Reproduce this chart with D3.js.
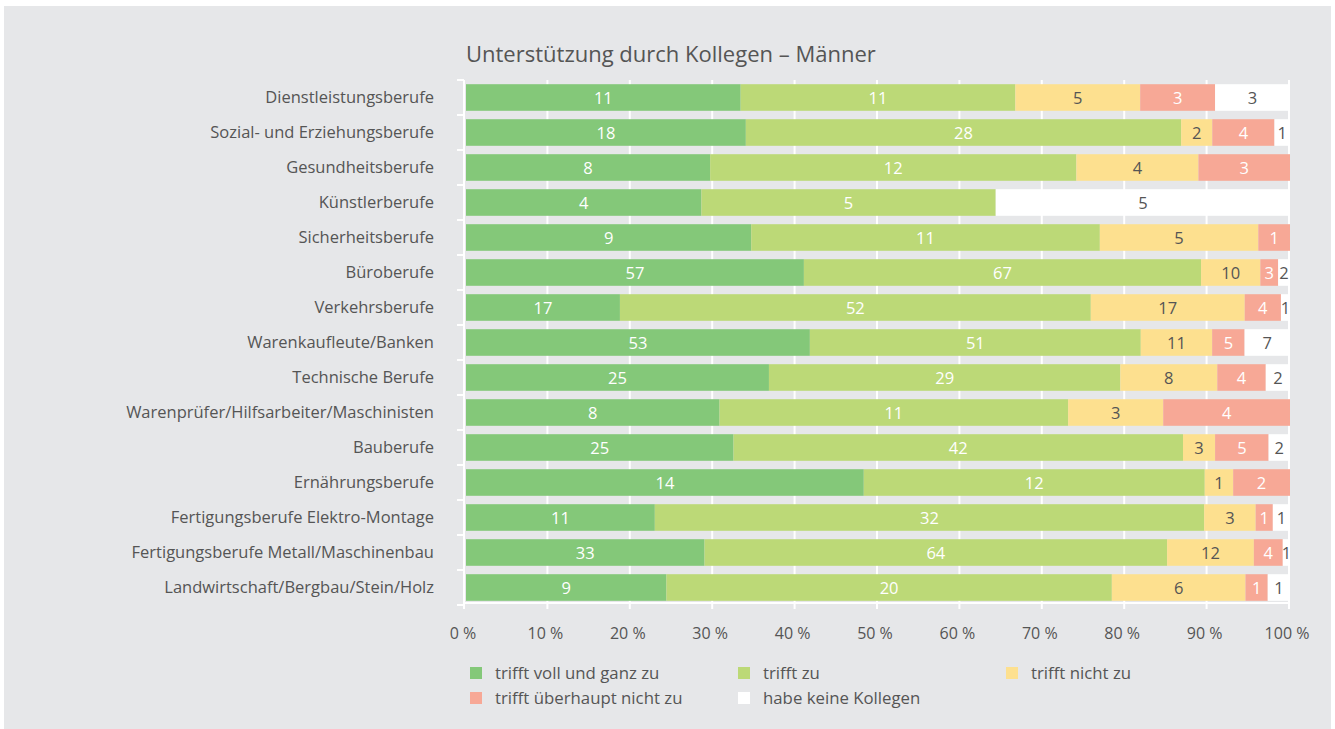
<!DOCTYPE html>
<html>
<head>
<meta charset="utf-8">
<script src="https://cdn.jsdelivr.net/npm/d3@7"></script>
<style>
  body { margin: 0; background: #fff; }
  svg { display: block; font-family: "Open Sans", sans-serif; }
</style>
</head>
<body>
<svg id="chart" width="1335" height="729"></svg>
<script>
// chart data
const categories = [
  'Dienstleistungsberufe',
  'Sozial- und Erziehungsberufe',
  'Gesundheitsberufe',
  'Künstlerberufe',
  'Sicherheitsberufe',
  'Büroberufe',
  'Verkehrsberufe',
  'Warenkaufleute/Banken',
  'Technische Berufe',
  'Warenprüfer/Hilfsarbeiter/Maschinisten',
  'Bauberufe',
  'Ernährungsberufe',
  'Fertigungsberufe Elektro-Montage',
  'Fertigungsberufe Metall/Maschinenbau',
  'Landwirtschaft/Bergbau/Stein/Holz'
];
const seriesNames = ['trifft voll und ganz zu', 'trifft zu', 'trifft nicht zu', 'trifft überhaupt nicht zu', 'habe keine Kollegen'];
const vollUndGanz = [11, 18, 8, 4, 9, 57, 17, 53, 25, 8, 25, 14, 11, 33, 9];
const trifftZu    = [11, 28, 12, 5, 11, 67, 52, 51, 29, 11, 42, 12, 32, 64, 20];
const nichtZu     = [5, 2, 4, 0, 5, 10, 17, 11, 8, 3, 3, 1, 3, 12, 6];
const ueberhaupt  = [3, 4, 3, 0, 1, 3, 4, 5, 4, 4, 5, 2, 1, 4, 1];
const keine       = [3, 1, 0, 5, 0, 2, 1, 7, 2, 0, 2, 0, 1, 1, 1];
const tickValues = [0, 10, 20, 30, 40, 50, 60, 70, 80, 90, 100];

const colors = ['#84c879', '#bcd977', '#fde08f', '#f7a896', '#ffffff'];
const labelColors = ['#fff', '#fff', '#555', '#fff', '#555'];
const textGrey = '#555';

const svg = d3.select('#chart');
svg.append('rect').attr('x', 4).attr('y', 6).attr('width', 1327).attr('height', 723).attr('fill', '#e6e7e9');

// build rows of shares
const series = [vollUndGanz, trifftZu, nichtZu, ueberhaupt, keine];
const rows = categories.map(function(c, i) {
  var vals = series.map(s => s[i]);
  var total = d3.sum(vals);
  var start = 0;
  var segs = vals.map(function(v, k) {
    var seg = {cat: c, k: k, v: v, x0: start, x1: start + v / total * 100};
    start = seg.x1;
    return seg;
  });
  return segs;
});

const x = d3.scaleLinear().domain([0, 100]).range([466, 1290]);
const y = d3.scaleBand().domain(categories).range([80, 605]).paddingInner(0.24).paddingOuter(0.12);

// gridlines
svg.append('g').selectAll('line').data(tickValues.slice(1)).join('line')
  .attr('x1', d => x(d) - 1).attr('x2', d => x(d) - 1)
  .attr('y1', 80).attr('y2', 609)
  .attr('stroke', '#fff').attr('stroke-width', 2);

// left axis line + ticks at band boundaries
svg.append('line').attr('x1', 464).attr('x2', 464).attr('y1', 80).attr('y2', 609)
  .attr('stroke', '#fff').attr('stroke-width', 2);
const step = y.step();
const bounds = d3.range(categories.length + 1).map(i => y(categories[0]) - step * y.paddingInner() / 2 + i * step);
svg.append('g').selectAll('line').data(bounds).join('line')
  .attr('x1', 457).attr('x2', 464)
  .attr('y1', d => d).attr('y2', d => d)
  .attr('stroke', '#fff').attr('stroke-width', 2);

// bottom axis line
svg.append('line').attr('x1', 463).attr('x2', 1290).attr('y1', 603).attr('y2', 603)
  .attr('stroke', '#fff').attr('stroke-width', 2);

// bars
const barG = svg.append('g');
rows.forEach(function(segs) {
  barG.selectAll(null).data(segs.filter(s => s.v > 0)).join('rect')
    .attr('x', d => x(d.x0))
    .attr('width', d => x(d.x1) - x(d.x0))
    .attr('y', d => y(d.cat))
    .attr('height', y.bandwidth())
    .attr('fill', d => colors[d.k]);
  barG.selectAll(null).data(segs.filter(s => s.v > 0)).join('text')
    .attr('x', d => (x(d.x0) + x(d.x1)) / 2)
    .attr('y', d => y(d.cat) + y.bandwidth() / 2 + 6)
    .attr('text-anchor', 'middle')
    .attr('font-size', 16.5)
    .attr('fill', d => labelColors[d.k])
    .text(d => d.v);
});

// category labels
svg.append('g').selectAll('text').data(categories).join('text')
  .attr('x', 434)
  .attr('y', d => y(d) + y.bandwidth() / 2 + 5.5)
  .attr('text-anchor', 'end')
  .attr('font-size', 16.5)
  .attr('fill', textGrey)
  .text(d => d);

// x tick labels
svg.append('g').selectAll('text').data(tickValues).join('text')
  .attr('x', d => x(d) - 3)
  .attr('y', 639)
  .attr('text-anchor', 'middle')
  .attr('font-size', 16)
  .attr('fill', textGrey)
  .text(d => d + ' %');

// title
svg.append('text').attr('x', 466).attr('y', 62)
  .attr('font-size', 22).attr('fill', textGrey)
  .text('Unterstützung durch Kollegen – Männer');

// legend
const legPos = [[470, 673], [738, 673], [1006, 673], [470, 698], [738, 698]];
const leg = svg.append('g').selectAll('g').data(seriesNames).join('g')
  .attr('transform', (d, i) => 'translate(' + legPos[i][0] + ',' + legPos[i][1] + ')');
leg.append('rect').attr('x', 0).attr('y', -6).attr('width', 12).attr('height', 12)
  .attr('fill', (d, i) => colors[i]);
leg.append('text').attr('x', 25).attr('y', 6)
  .attr('font-size', 16.8).attr('fill', textGrey)
  .text(d => d);
</script>
</body>
</html>
